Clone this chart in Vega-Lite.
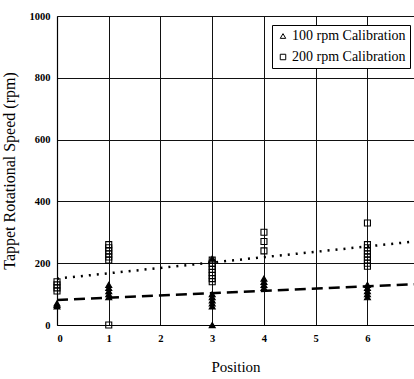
{
  "$schema": "https://vega.github.io/schema/vega-lite/v6.json",
  "width": 357,
  "height": 309,
  "autosize": {"type": "none"},
  "padding": {"left": 57, "top": 16, "right": 0, "bottom": 54},
  "background": "white",
  "config": {
    "view": {"stroke": null},
    "font": "Liberation Serif",
    "axis": {
      "grid": true,
      "gridColor": "#111",
      "gridWidth": 1,
      "gridOpacity": 1,
      "domainColor": "#000",
      "domainWidth": 1.2,
      "ticks": false,
      "labelFont": "Liberation Serif",
      "labelFontWeight": "bold",
      "labelFontSize": 10.5,
      "labelColor": "#000",
      "titleFont": "Liberation Serif",
      "titleFontWeight": "normal",
      "titleColor": "#000"
    }
  },
  "datasets": {
    "points": [
      {"position": 0, "speed": 110, "series": "200 rpm Calibration"},
      {"position": 0, "speed": 120, "series": "200 rpm Calibration"},
      {"position": 0, "speed": 130, "series": "200 rpm Calibration"},
      {"position": 0, "speed": 140, "series": "200 rpm Calibration"},
      {"position": 0, "speed": 60, "series": "100 rpm Calibration"},
      {"position": 0, "speed": 65, "series": "100 rpm Calibration"},
      {"position": 0, "speed": 70, "series": "100 rpm Calibration"},
      {"position": 1, "speed": 0, "series": "200 rpm Calibration"},
      {"position": 1, "speed": 210, "series": "200 rpm Calibration"},
      {"position": 1, "speed": 220, "series": "200 rpm Calibration"},
      {"position": 1, "speed": 230, "series": "200 rpm Calibration"},
      {"position": 1, "speed": 240, "series": "200 rpm Calibration"},
      {"position": 1, "speed": 250, "series": "200 rpm Calibration"},
      {"position": 1, "speed": 260, "series": "200 rpm Calibration"},
      {"position": 1, "speed": 90, "series": "100 rpm Calibration"},
      {"position": 1, "speed": 100, "series": "100 rpm Calibration"},
      {"position": 1, "speed": 110, "series": "100 rpm Calibration"},
      {"position": 1, "speed": 120, "series": "100 rpm Calibration"},
      {"position": 1, "speed": 130, "series": "100 rpm Calibration"},
      {"position": 3, "speed": 140, "series": "200 rpm Calibration"},
      {"position": 3, "speed": 150, "series": "200 rpm Calibration"},
      {"position": 3, "speed": 160, "series": "200 rpm Calibration"},
      {"position": 3, "speed": 170, "series": "200 rpm Calibration"},
      {"position": 3, "speed": 180, "series": "200 rpm Calibration"},
      {"position": 3, "speed": 190, "series": "200 rpm Calibration"},
      {"position": 3, "speed": 200, "series": "200 rpm Calibration"},
      {"position": 3, "speed": 210, "series": "200 rpm Calibration"},
      {"position": 3, "speed": 0, "series": "100 rpm Calibration"},
      {"position": 3, "speed": 60, "series": "100 rpm Calibration"},
      {"position": 3, "speed": 70, "series": "100 rpm Calibration"},
      {"position": 3, "speed": 80, "series": "100 rpm Calibration"},
      {"position": 3, "speed": 90, "series": "100 rpm Calibration"},
      {"position": 3, "speed": 100, "series": "100 rpm Calibration"},
      {"position": 3, "speed": 215, "series": "100 rpm Calibration"},
      {"position": 4, "speed": 240, "series": "200 rpm Calibration"},
      {"position": 4, "speed": 270, "series": "200 rpm Calibration"},
      {"position": 4, "speed": 300, "series": "200 rpm Calibration"},
      {"position": 4, "speed": 120, "series": "100 rpm Calibration"},
      {"position": 4, "speed": 130, "series": "100 rpm Calibration"},
      {"position": 4, "speed": 140, "series": "100 rpm Calibration"},
      {"position": 4, "speed": 150, "series": "100 rpm Calibration"},
      {"position": 6, "speed": 190, "series": "200 rpm Calibration"},
      {"position": 6, "speed": 200, "series": "200 rpm Calibration"},
      {"position": 6, "speed": 210, "series": "200 rpm Calibration"},
      {"position": 6, "speed": 220, "series": "200 rpm Calibration"},
      {"position": 6, "speed": 230, "series": "200 rpm Calibration"},
      {"position": 6, "speed": 240, "series": "200 rpm Calibration"},
      {"position": 6, "speed": 250, "series": "200 rpm Calibration"},
      {"position": 6, "speed": 260, "series": "200 rpm Calibration"},
      {"position": 6, "speed": 330, "series": "200 rpm Calibration"},
      {"position": 6, "speed": 90, "series": "100 rpm Calibration"},
      {"position": 6, "speed": 100, "series": "100 rpm Calibration"},
      {"position": 6, "speed": 110, "series": "100 rpm Calibration"},
      {"position": 6, "speed": 120, "series": "100 rpm Calibration"},
      {"position": 6, "speed": 130, "series": "100 rpm Calibration"}
    ],
    "trends": [
      {"position": 0, "speed": 81, "fit": "fit100"},
      {"position": 6.9, "speed": 132, "fit": "fit100"},
      {"position": 0, "speed": 150, "fit": "fit200"},
      {"position": 6.9, "speed": 270, "fit": "fit200"}
    ]
  },
  "layer": [
    {
      "data": {"name": "trends"},
      "mark": {"type": "line", "color": "#000", "strokeWidth": 2.5, "clip": true},
      "encoding": {
        "x": {"field": "position", "type": "quantitative", "scale": {"domain": [0, 6.9], "nice": false, "zero": false},
              "axis": {"values": [0, 1, 2, 3, 4, 5, 6], "title": "Position", "titleFontSize": 15, "labelPadding": 8, "titlePadding": 16, "format": "d"}},
        "y": {"field": "speed", "type": "quantitative", "scale": {"domain": [0, 1000], "nice": false},
              "axis": {"values": [0, 200, 400, 600, 800, 1000], "format": "d", "title": "Tappet Rotational Speed (rpm)", "titleFontSize": 16, "labelPadding": 7, "titlePadding": 12}},
        "detail": {"field": "fit"},
        "strokeDash": {"field": "fit", "type": "nominal",
                       "scale": {"domain": ["fit100", "fit200"], "range": [[11, 6], [2, 6]]},
                       "legend": null}
      }
    },
    {
      "data": {"name": "points"},
      "mark": {"type": "point", "filled": false, "color": "#000", "strokeWidth": 1.1, "opacity": 1},
      "encoding": {
        "x": {"field": "position", "type": "quantitative"},
        "y": {"field": "speed", "type": "quantitative"},
        "fill": {"condition": {"test": "datum.series === '100 rpm Calibration'", "value": "#000"}, "value": "transparent"},
        "shape": {"field": "series", "type": "nominal",
                  "scale": {"domain": ["100 rpm Calibration", "200 rpm Calibration"], "range": ["triangle-up", "square"]},
                  "legend": {
                    "title": null,
                    "orient": "none",
                    "legendX": 215,
                    "legendY": 9,
                    "strokeColor": "#000",
                    "fillColor": "white",
                    "padding": 4,
                    "rowPadding": 7,
                    "symbolSize": 30,
                    "symbolStrokeColor": "#000",
                    "symbolStrokeWidth": 1,
                    "symbolFillColor": "white",
                    "labelFont": "Liberation Serif",
                    "labelFontSize": 14,
                    "labelColor": "#000",
                    "labelOffset": 2
                  }},
        "size": {"value": 36}
      }
    }
  ]
}
